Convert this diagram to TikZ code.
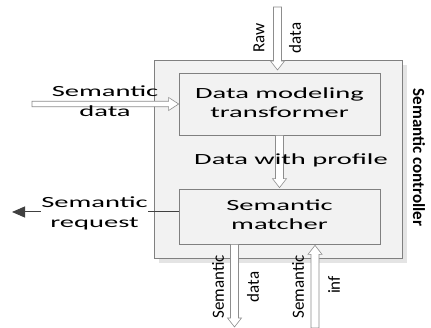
\documentclass[tikz,border=0pt]{standalone}
\usepackage{fontspec}
\usetikzlibrary{calc,arrows.meta}
\newfontfamily\wfont[FakeStretch=1.84]{Carlito}
\newfontfamily\nfont{Carlito}
\definecolor{boxfill}{HTML}{F2F2F2}
\definecolor{boxline}{HTML}{808080}
\definecolor{shadowc}{HTML}{E4E4E4}
\definecolor{reqc}{HTML}{404040}
\newcommand\hollowarrow[5]{%
  \path ($(#2)!#5!(#1)$) coordinate (hb);
  \draw[harrow] ($(#1)!#3!90:(#2)$) -- ($(hb)!#3!90:(#2)$) -- ($(hb)!#4!90:(#2)$) -- (#2)
    -- ($(hb)!#4!-90:(#2)$) -- ($(hb)!#3!-90:(#2)$) -- ($(#1)!#3!-90:(#2)$) -- cycle;}
\tikzset{
  x=1pt, y=-1pt,
  htext/.style={font=\wfont\fontsize{15.5}{20}\selectfont, align=center, inner sep=0pt},
  vtext/.style={font=\nfont\fontsize{17}{18}\selectfont, inner sep=0pt},
  ctext/.style={font=\nfont\bfseries\fontsize{17}{18}\selectfont, inner sep=0pt},
  box/.style={draw=boxline, fill=boxfill, line width=0.7pt, inner sep=0pt},
  harrow/.style={draw=boxline!90, fill=white, line width=0.6pt, line join=miter},
  reqarrow/.style={draw=reqc, line width=1pt, -{Triangle[length=13pt,width=11pt]}},
}
\begin{document}
\begin{tikzpicture}
\useasboundingbox[fill=white] (0,0) rectangle (431,328);
% outer controller box with shadow
\fill[shadowc] (159,65) rectangle (407,263);
\node[box, minimum width=248pt, minimum height=198pt] (outer) at (278,159) {};
\node[ctext, rotate=-90] (ctl) at (419,157.5) {Semantic controller};
% inner boxes
\node[box, minimum width=201pt, minimum height=62pt] (dmt) at (279.5,104)
  {\wfont\fontsize{15.5}{20}\selectfont\begin{tabular}{@{}c@{}}Data modeling\\[-1pt]transformer\end{tabular}};
\node[box, minimum width=201pt, minimum height=55pt] (sm) at (279.5,216.5)
  {\wfont\fontsize{15.5}{20}\selectfont\begin{tabular}{@{}c@{}}Semantic\\[-1pt]matcher\end{tabular}};
% coordinates of free arrow ends
\coordinate (rawS) at (277.5,7);
\coordinate (rawE) at (277.5,70);
\coordinate (sdS) at (32,104);
\coordinate (pfS) at (dmt.south);
\coordinate (pfE) at ($(sm.north)+(0,-1)$);
\coordinate (sdoS) at ($(sm.south)+(-45,0)$);
\coordinate (sdoE) at (234.5,327);
\coordinate (infS) at (315,328);
\coordinate (infE) at ($(sm.south)+(35.5,1)$);
\coordinate (reqS) at ($(sm.west)+(0,-4.5)$);
\coordinate (reqE) at (12,212);
% hollow arrows
\hollowarrow{rawS}{rawE}{4pt}{7pt}{9pt}
\hollowarrow{sdS}{dmt.west}{2.75pt}{6.5pt}{10pt}
\hollowarrow{pfS}{pfE}{4pt}{7pt}{9pt}
\hollowarrow{sdoS}{sdoE}{4pt}{7pt}{9pt}
\hollowarrow{infS}{infE}{4pt}{7pt}{9pt}
% request arrow
\draw[reqarrow] (reqS) -- (reqE);
% labels
\node[vtext, rotate=90] (lraw) at (259,38) {Raw};
\node[vtext, rotate=90] (lrawd) at (295,38) {data};
\node[htext] (lsd) at (105,101.5) {Semantic\\data};
\node[htext, anchor=base] (lpf) at (291,165) {Data with profile};
\node[htext, fill=white] (lreq) at (94.5,213.5) {Semantic\\request};
\node[vtext, rotate=90] (lsdo) at (218,287) {Semantic};
\node[vtext, rotate=90] (lsdod) at (253,287) {data};
\node[vtext, rotate=90] (linf) at (298,287) {Semantic};
\node[vtext, rotate=90] (linfi) at (334,285) {inf};
\end{tikzpicture}
\end{document}
